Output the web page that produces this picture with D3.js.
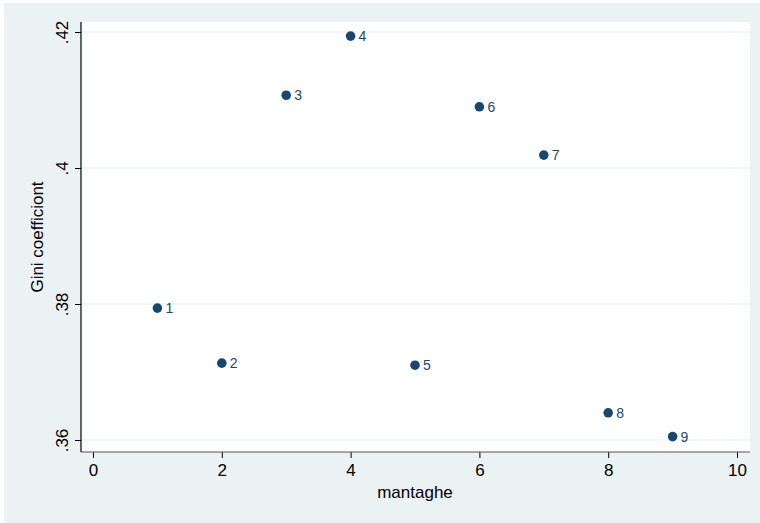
<!DOCTYPE html>
<html>
  <head>
    <style>
      body, html { margin: 0; padding: 0; overflow: hidden; background: #fff; }
      svg { display: block; }
    </style>
  </head>
  <body>
    <script src="https://cdn.jsdelivr.net/npm/d3@7"></script>
    <script>
      // regions (mantaghe) and their Gini coefficient
      const regions = [1, 2, 3, 4, 5, 6, 7, 8, 9];
      const gini = [0.3794, 0.3713, 0.4107, 0.4194, 0.371, 0.409, 0.4019, 0.364, 0.3605];
      const xTicks = [0, 2, 4, 6, 8, 10];
      const yTicks = [0.36, 0.38, 0.4, 0.42];
      const yTickLabels = [".36", ".38", ".4", ".42"];

      const W = 760, H = 523;
      const plot = { left: 81, right: 750, top: 22, bottom: 452 };
      const navy = "#1a476f";
      const font = "Liberation Sans, Arial, sans-serif";

      const svg = d3.select("body").append("svg").attr("width", W).attr("height", H);

      svg.append("rect").attr("x", 4).attr("y", 3).attr("width", W - 4).attr("height", H - 3)
        .attr("fill", "#eaf2f3");
      svg.append("rect").attr("x", plot.left).attr("y", plot.top)
        .attr("width", plot.right - plot.left).attr("height", plot.bottom - plot.top)
        .attr("fill", "#fff");

      const x = d3.scaleLinear().domain([0, 10]).range([93, 737]);
      const y = d3.scaleLinear().domain([0.36, 0.42]).range([440, 32]);

      // gridlines
      svg.append("g").selectAll("line").data(yTicks).join("line")
        .attr("x1", plot.left).attr("x2", plot.right)
        .attr("y1", d => y(d)).attr("y2", d => y(d))
        .attr("stroke", "#e6eef0").attr("stroke-width", 1.2);

      // x axis
      const xAxis = svg.append("g").attr("transform", `translate(0,${plot.bottom})`)
        .call(d3.axisBottom(x).tickValues(xTicks).tickSize(6).tickPadding(6).tickFormat(d3.format("d")));
      xAxis.select(".domain").remove();
      xAxis.selectAll("line").attr("stroke", "#000");
      xAxis.selectAll("text").attr("font-family", font).attr("font-size", 17).attr("fill", "#000");
      svg.append("line").attr("x1", plot.left).attr("x2", plot.right)
        .attr("y1", plot.bottom).attr("y2", plot.bottom).attr("stroke", "#555").attr("stroke-width", 1.2);

      // y axis
      const yAxis = svg.append("g").attr("transform", `translate(${plot.left},0)`)
        .call(d3.axisLeft(y).tickValues(yTicks).tickSize(6).tickFormat((d, i) => yTickLabels[i]));
      yAxis.select(".domain").remove();
      yAxis.selectAll("line").attr("stroke", "#000");
      yAxis.selectAll("text")
        .attr("font-family", font).attr("font-size", 17).attr("fill", "#000")
        .attr("x", 0).attr("dy", 0)
        .attr("text-anchor", "middle")
        .attr("transform", "translate(-13,0) rotate(-90)");
      svg.append("line").attr("x1", plot.left).attr("x2", plot.left)
        .attr("y1", plot.top).attr("y2", plot.bottom).attr("stroke", "#000").attr("stroke-width", 1.2);

      // axis titles
      svg.append("text").attr("x", 415).attr("y", 498).attr("text-anchor", "middle")
        .attr("font-family", font).attr("font-size", 17).text("mantaghe");
      svg.append("text").attr("transform", "translate(43,237) rotate(-90)").attr("text-anchor", "middle")
        .attr("font-family", font).attr("font-size", 17).text("Gini coefficiont");

      // points + labels
      const pts = regions.map((r, i) => ({ r, g: gini[i] }));
      svg.append("g").selectAll("circle").data(pts).join("circle")
        .attr("cx", d => x(d.r)).attr("cy", d => y(d.g)).attr("r", 4.8).attr("fill", navy);
      svg.append("g").selectAll("text").data(pts).join("text")
        .attr("x", d => x(d.r) + 8).attr("y", d => y(d.g) + 5)
        .attr("font-family", font).attr("font-size", 14).attr("fill", navy)
        .text(d => d.r);
    </script>
  </body>
</html>
